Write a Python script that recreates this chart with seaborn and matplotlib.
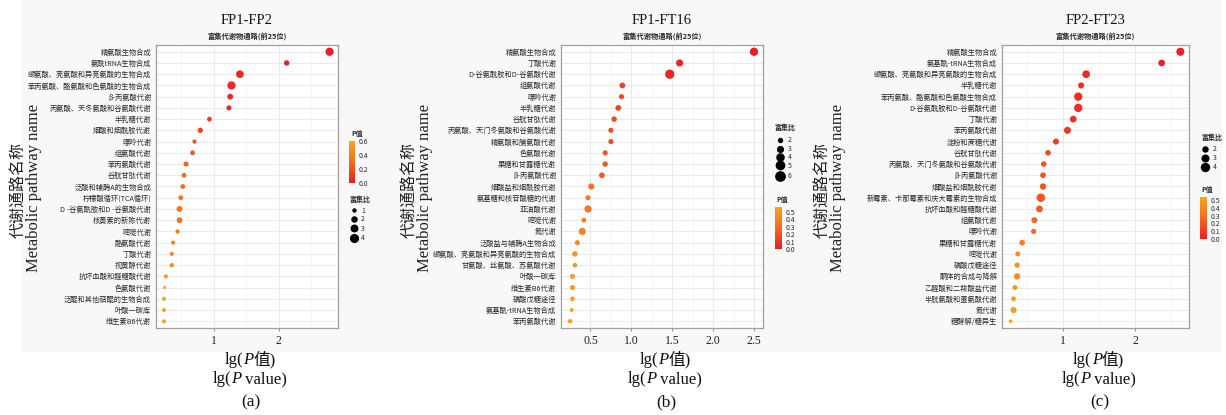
import numpy as np
import pandas as pd
import matplotlib
matplotlib.use("Agg")
import matplotlib.pyplot as plt
import seaborn as sns
from matplotlib.colors import LinearSegmentedColormap, Normalize
from matplotlib.lines import Line2D
from matplotlib.patches import Rectangle
from matplotlib.cm import ScalarMappable

# ---------------- data ----------------
paths_a = ['精氨酸生物合成', '氨酰tRNA生物合成', '缬氨酸、亮氨酸和异亮氨酸的生物合成',
           '苯丙氨酸、酪氨酸和色氨酸的生物合成', 'β-丙氨酸代谢', '丙氨酸、天冬氨酸和谷氨酸代谢',
           '半乳糖代谢', '烟酸和烟酰胺代谢', '嘌呤代谢', '组氨酸代谢', '苯丙氨酸代谢', '谷胱甘肽代谢',
           '泛酸和辅酶A的生物合成', '柠檬酸循环(TCA循环)', 'D -谷氨酰胺和D -谷氨酸代谢',
           '核黄素的新陈代谢', '嘧啶代谢', '酪氨酸代谢', '丁酸代谢', '视黄醇代谢',
           '抗坏血酸和醛糖酸代谢', '色氨酸代谢', '泛醌和其他萜醌的生物合成', '叶酸一碳库', '维生素B6代谢']
lg_a = [2.78, 2.12, 1.40, 1.27, 1.25, 1.23, 0.93, 0.79, 0.70, 0.67, 0.57, 0.54, 0.52,
        0.49, 0.47, 0.47, 0.44, 0.37, 0.35, 0.35, 0.26, 0.24, 0.23, 0.23, 0.23]
ratio_a = [4.5, 2.2, 4.0, 4.5, 2.5, 2.0, 1.8, 2.2, 1.5, 1.8, 2.0, 1.8, 1.8,
           1.8, 2.5, 2.5, 1.5, 1.5, 1.5, 1.5, 1.5, 1.0, 1.4, 1.4, 1.4]

paths_b = ['精氨酸生物合成', '丁酸代谢', 'D-谷氨酰胺和D-谷氨酸代谢', '组氨酸代谢', '嘌呤代谢',
           '半乳糖代谢', '谷胱甘肽代谢', '丙氨酸、天门冬氨酸和谷氨酸代谢', '精氨酸和脯氨酸代谢',
           '色氨酸代谢', '果糖和甘露糖代谢', 'β-丙氨酸代谢', '烟酸盐和烟酰胺代谢',
           '氨基糖和核苷酸糖的代谢', '亚油酸代谢', '嘧啶代谢', '氮代谢', '泛酸盐与辅酶A生物合成',
           '缬氨酸、亮氨酸和异亮氨酸的生物合成', '甘氨酸、丝氨酸、苏氨酸代谢', '叶酸一碳库',
           '维生素B6代谢', '磷酸戊糖途径', '氨基酰-tRNA生物合成', '苯丙氨酸代谢']
lg_b = [2.50, 1.59, 1.47, 0.89, 0.88, 0.84, 0.79, 0.75, 0.75, 0.68, 0.68, 0.64, 0.51,
        0.47, 0.47, 0.42, 0.40, 0.34, 0.31, 0.31, 0.28, 0.28, 0.28, 0.27, 0.25]
ratio_b = [5.0, 4.0, 6.0, 3.0, 2.6, 3.0, 2.8, 2.6, 2.6, 2.6, 2.8, 3.0, 3.2,
           2.6, 4.0, 2.5, 4.0, 2.6, 2.8, 2.3, 2.6, 2.6, 2.3, 2.0, 2.3]

paths_c = ['精氨酸生物合成', '氨基酰-tRNA生物合成', '缬氨酸、亮氨酸和异亮氨酸的生物合成',
           '半乳糖代谢', '苯丙氨酸、酪氨酸和色氨酸生物合成', 'D-谷氨酰胺和D-谷氨酸代谢', '丁酸代谢',
           '苯丙氨酸代谢', '淀粉和蔗糖代谢', '谷胱甘肽代谢', '丙氨酸、天门冬氨酸和谷氨酸代谢',
           'β-丙氨酸代谢', '烟酸盐和烟酰胺代谢', '新霉素、卡那霉素和庆大霉素的生物合成',
           '抗坏血酸和醛糖酸代谢', '组氨酸代谢', '嘌呤代谢', '果糖和甘露糖代谢', '嘧啶代谢',
           '磷酸戊糖途径', '酮体的合成与降解', '乙醛酸和二羧酸盐代谢', '半胱氨酸和蛋氨酸代谢',
           '氮代谢', '糖酵解/糖异生']
lg_c = [2.63, 2.37, 1.32, 1.25, 1.21, 1.21, 1.14, 1.06, 0.90, 0.79, 0.73, 0.72, 0.72,
        0.69, 0.67, 0.60, 0.59, 0.43, 0.37, 0.36, 0.36, 0.33, 0.31, 0.31, 0.27]
ratio_c = [4.1, 3.0, 3.8, 2.6, 4.3, 4.3, 3.0, 3.3, 2.6, 2.3, 2.3, 2.4, 2.8,
           4.5, 3.1, 2.6, 2.1, 2.4, 2.0, 2.1, 2.8, 2.0, 1.9, 2.6, 1.4]

titles = ['FP1-FP2', 'FP1-FT16', 'FP2-FT23']
subtitle = '富集代谢物通路(前25位)'
captions = ['(a)', '(b)', '(c)']

# ---------------- style ----------------
sns.set_theme(style='white')
plt.rcParams['font.family'] = ['Noto Sans CJK SC', 'DejaVu Sans']
plt.rcParams['axes.unicode_minus'] = False

W, H = 1226, 415
fig = plt.figure(figsize=(W / 100, H / 100), dpi=100)
fig.patch.set_facecolor('white')
fig.add_artist(Rectangle((22 / W, 1 - 352 / H), 1200 / W, 352 / H, transform=fig.transFigure,
                         facecolor='#f8f8f8', edgecolor='none', zorder=-10))

cmap = LinearSegmentedColormap.from_list('pv', ['#ec1c24', '#f36a22', '#f8a51e'])
SERIF = ['Liberation Serif', 'Noto Sans CJK SC']


def fx(x):
    return x / W


def fy(y):
    return 1 - y / H


def box(x0, y0, x1, y1):
    return [x0 / W, 1 - y1 / H, (x1 - x0) / W, (y1 - y0) / H]


def rich(xc, yc, pieces, size):
    r = fig.canvas.get_renderer()
    ts = []
    for s, st in pieces:
        ts.append(fig.text(0, fy(yc), s, fontsize=size, family=SERIF, style=st,
                           ha='left', va='center', color='#111111'))
    ws = [t.get_window_extent(r).width for t in ts]
    x = xc - sum(ws) / 2
    for t, w in zip(ts, ws):
        t.set_x(fx(x))
        x += w


def panel(i, paths, lgp, ratio, axb, xlim, major, major_lbl, minor,
          sizes, size_norm, size_ticks, cb_ticks, leg, ylab_x):
    df = pd.DataFrame({'pathway': paths, 'lgp': lgp, 'ratio': ratio})
    df['p'] = 10 ** (-df['lgp'])
    ax = fig.add_axes(box(*axb))
    ax.set_facecolor('white')
    norm = Normalize(0.0, max(df['p'].max(), cb_ticks[-1]))
    sns.scatterplot(data=df, x='lgp', y='pathway', hue='p', size='ratio', palette=cmap,
                    hue_norm=norm, sizes=sizes, size_norm=size_norm, legend=False,
                    linewidth=0, ax=ax, zorder=3)
    ax.set_ylim(len(paths) - 1 + 0.6, -0.6)
    ax.set_xlim(*xlim)
    ax.set_xticks(major, labels=major_lbl, fontfamily='Liberation Serif', fontsize=8.5)
    ax.set_xticks(minor, minor=True)
    ax.set_yticks(range(len(paths)), labels=paths, fontsize=5.2)
    ax.set_axisbelow(True)
    ax.grid(True, which='major', color='#e8e8e8', lw=0.6)
    ax.grid(True, which='minor', axis='x', color='#f1f1f1', lw=0.45)
    for s in ax.spines.values():
        s.set_color('#a99e97')
        s.set_linewidth(0.9)
    ax.tick_params(axis='y', length=2, width=0.5, color='#666666', pad=1.5, labelcolor='#2a2a2a')
    ax.tick_params(axis='x', which='major', length=2, width=0.5, color='#666666', pad=3,
                   labelcolor='#222222', bottom=True)
    ax.tick_params(axis='x', which='minor', length=0)
    ax.set_xlabel('')
    ax.set_ylabel('')

    xc = (axb[0] + axb[2]) / 2
    fig.text(fx(xc), fy(20), titles[i], fontsize=10.5, family=SERIF, ha='center', va='center',
             color='#111111')
    fig.text(fx(xc), fy(36), subtitle, fontsize=5.2, fontweight='bold', ha='center',
             va='center', color='#2a2a2a')

    # colour bar
    cx0, cy0, cx1, cy1 = leg['cbar']
    cax = fig.add_axes(box(cx0, cy0, cx1, cy1))
    cb = fig.colorbar(ScalarMappable(norm=norm, cmap=cmap), cax=cax, ticks=cb_ticks)
    cb.outline.set_visible(False)
    cax.set_yticklabels([f'{t:.1f}' for t in cb_ticks])
    cax.tick_params(labelsize=5, length=1.5, width=0.4, color='white', pad=1.2,
                    labelcolor='#2a2a2a')
    fig.text(fx(leg['ptitle'][0]), fy(leg['ptitle'][1]), 'P值', fontsize=5, fontweight='bold',
             ha='left', va='center', color='#2a2a2a')

    # size legend
    tx, ty = leg['stitle']
    fig.text(fx(tx), fy(ty), '富集比', fontsize=5, fontweight='bold', ha='left', va='center',
             color='#2a2a2a')
    dx, lx = leg['dot_x'], leg['lab_x']
    for v, yy in zip(size_ticks, leg['dot_y']):
        s = sizes[0] + (v - size_norm[0]) / (size_norm[1] - size_norm[0]) * (sizes[1] - sizes[0])
        fig.add_artist(Line2D([fx(dx)], [fy(yy)], marker='o', markersize=np.sqrt(s),
                              color='black', linestyle='none', transform=fig.transFigure))
        fig.text(fx(lx), fy(yy), str(v), fontsize=5, ha='left', va='center', color='#2a2a2a')

    # axis titles
    fig.text(fx(ylab_x), fy(190), '代谢通路名称', rotation=90, fontsize=11.5, ha='center',
             va='center', color='#222222')
    fig.text(fx(ylab_x + 16), fy(188), 'Metabolic pathway name', rotation=90, fontsize=12,
             family=SERIF, ha='center', va='center', color='#222222')
    rich(xc + 3, 360, [('lg(', 'normal'), ('P', 'italic'), ('值)', 'normal')], 12)
    rich(xc + 3, 379, [('lg(', 'normal'), ('P', 'italic'), (' value)', 'normal')], 12)
    rich(xc + 4, 402, [(captions[i], 'normal')], 12.5)


panel(0, paths_a, lg_a, ratio_a, (156, 45, 338, 328), (0.108, 2.91),
      [1, 2], ['1', '2'], [0.5, 1.5, 2.5],
      (4.7, 35), (1, 4.5), [1, 2, 3, 4], [0.0, 0.2, 0.4, 0.6],
      dict(cbar=(349, 141, 355, 183), ptitle=(351, 133), stitle=(350, 199),
           dot_x=354, lab_x=361, dot_y=[210.5, 219, 228.5, 238]), 18)

panel(1, paths_b, lg_b, ratio_b, (561, 45, 763, 328), (0.14, 2.61),
      [0.5, 1.0, 1.5, 2.0, 2.5], ['0.5', '1.0', '1.5', '2.0', '2.5'],
      [0.75, 1.25, 1.75, 2.25],
      (8, 45), (2, 6), [2, 3, 4, 5, 6], [0.0, 0.1, 0.2, 0.3, 0.4, 0.5],
      dict(cbar=(775, 207, 782, 249), ptitle=(776, 199), stitle=(775, 127),
           dot_x=780, lab_x=788, dot_y=[140, 148.5, 157, 165.5, 175.5]), 409)

panel(2, paths_c, lg_c, ratio_c, (1002, 45, 1189, 328), (0.15, 2.75),
      [1, 2], ['1', '2'], [0.5, 1.5, 2.5],
      (7, 38), (1.4, 4.5), [2, 3, 4], [0.0, 0.1, 0.2, 0.3, 0.4, 0.5],
      dict(cbar=(1200, 197, 1207, 239), ptitle=(1201, 189), stitle=(1201, 137),
           dot_x=1205, lab_x=1213, dot_y=[149, 157.5, 167]), 822)

fig.savefig('out.png', dpi=100, facecolor='white')
